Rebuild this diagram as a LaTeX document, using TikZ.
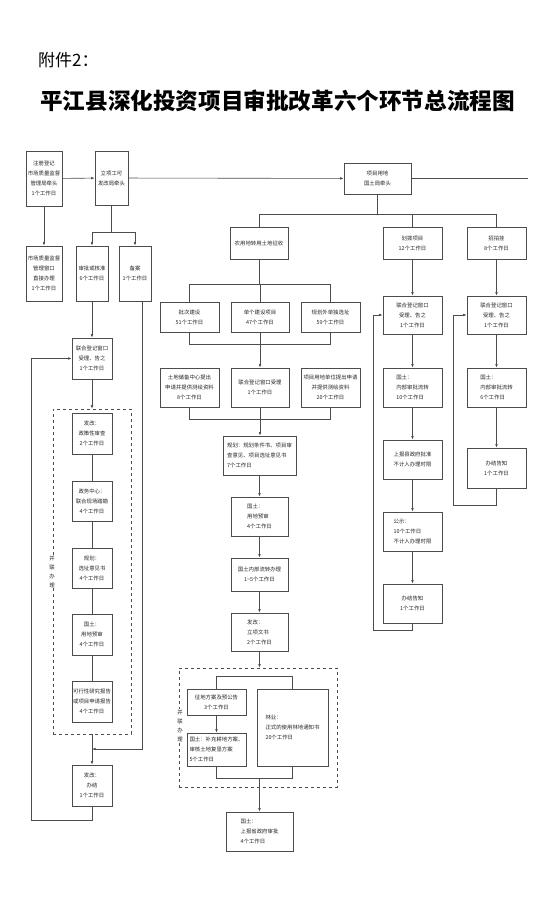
\documentclass[tikz,border=0pt]{standalone}
\usepackage{fontspec}
\newfontfamily\cjk{Noto Sans CJK SC}
\usetikzlibrary{arrows.meta}
\tikzset{
  box/.style 2 args={draw=black!70, line width=0.7pt, minimum width=#1pt, minimum height=#2pt,
    inner sep=0pt, align=center, text=black!85, font=\cjk\fontsize{5.4}{10}\selectfont},
  lbox/.style 2 args={box={#1}{#2}, align=left},
  dashframe/.style 2 args={draw=black!70, dashed, line width=0.6pt, minimum width=#1pt, minimum height=#2pt},
  link/.style={draw=black!70, line width=0.6pt},
  sidetag/.style={fill=white, inner sep=0.5pt, align=center, text=black!85, font=\cjk\fontsize{5.4}{9}\selectfont},
}

\begin{document}
\begin{tikzpicture}[x=1pt,y=-1pt,>={Latex[length=3.5pt,width=2.6pt]}]
\fill[white] (0,0) rectangle (553,915);
\useasboundingbox (0,0) rectangle (553,915);

% titles
\node[anchor=west, inner sep=0pt, font=\cjk\fontsize{17}{17}\selectfont] (fj) at (38,60) {附件2：};
\node[inner sep=0pt, font=\cjk\bfseries\fontsize{22.6}{23}\selectfont] (title) at (277.5,101)
  {平江县深化投资项目审批改革六个环节总流程图};

% top row
\node[box={36}{55}] (reg) at (44,178.5) {注册登记\\市场质量监督\\管理局牵头\\1个工作日};
\node[box={33}{54}] (lixiang) at (111.5,178) {立项工可\\发改局牵头};
\node[box={67}{31}] (xmyd) at (377.5,178.5) {项目用地\\国土局牵头};
\coordinate (rend) at (528,178.5);

\node[box={36}{55}] (scjg) at (44,273.5) {市场质量监督\\管理窗口\\直接办理\\1个工作日};
\node[box={32}{55}] (spjz) at (92,273.5) {审批或核准\\6个工作日};
\node[box={32}{55}] (beian) at (135,273.5) {备案\\1个工作日};

% left column
\node[box={40}{41}] (lh1) at (92,358.5) {联合登记窗口\\受理、告之\\1个工作日};
\node[dashframe={78}{325}] (parL) at (92,571.5) {};
\node[box={40}{41}] (fg1) at (92,433.5) {发改：\\政策性审查\\2个工作日};
\node[box={40}{40}] (zw) at (92,501) {政务中心：\\联合现场踏勘\\4个工作日};
\node[box={40}{40}] (gh1) at (92,568) {规划：\\选址意见书\\4个工作日};
\node[box={40}{41}] (gt1) at (92,634.5) {国土：\\用地预审\\4个工作日};
\node[box={40}{41}] (kx) at (92,701.5) {可行性研究报告\\或项目申请报告\\4个工作日};
\node[sidetag] (tagL) at (52,572) {并\\联\\办\\理};
\coordinate (jn) at (92,749);
\node[box={40}{41}] (fgbj) at (92,785.5) {发改：\\办结\\1个工作日};

% middle: land conversion
\node[box={58}{32}] (nyd) at (259,243) {农用地转用土地征收};
\node[box={59}{30}] (pc) at (189.5,317) {批次建设\\51个工作日};
\node[box={58}{30}] (dg) at (260,317) {单个建设项目\\47个工作日};
\node[box={59}{30}] (ghw) at (330.5,317) {规划外单独选址\\59个工作日};
\node[box={59}{39}] (tdcb) at (189.5,387.5) {土地储备中心提出\\申请并提供测绘资料\\8个工作日};
\node[box={58}{39}] (lhsl) at (260,387.5) {联合登记窗口受理\\1个工作日};
\node[box={59}{39}] (xmdw) at (330.5,387.5) {项目用地单位提出申请\\并提供测绘资料\\20个工作日};
\node[lbox={73}{39}] (gh) at (259.5,455.5) {规划：规划条件书、项目审\\查意见、项目选址意见书\\7个工作日};
\node[lbox={57}{39}] (gtys) at (259.5,516.5) {国土：\\用地预审\\4个工作日};
\node[box={57}{33}] (gtlz) at (259.5,574.5) {国土内部流转办理\\1\textasciitilde 5个工作日};
\node[lbox={57}{38}] (fglx) at (259.5,632) {发改：\\立项文书\\2个工作日};
\node[dashframe={158}{119}] (parR) at (258,727.5) {};
\node[box={59}{26}] (zd) at (216.5,702) {征地方案及预公告\\3个工作日};
\node[lbox={59}{33}] (gtbc) at (216.5,749.5) {国土：补充耕地方案、\\审核土地复垦方案\\5个工作日};
\node[lbox={71}{77}] (ly) at (292.5,727.5) {林业：\\正式的使用林地通知书\\20个工作日};
\node[sidetag] (tagR) at (180,725.5) {并\\联\\办\\理};
\node[lbox={67}{39}] (gtsb) at (259.5,831.5) {国土：\\上报省政府审批\\4个工作日};

% right: allocation
\node[box={59}{32}] (hb) at (412.5,243) {划拨项目\\12个工作日};
\node[box={59}{38}] (lh2) at (412.5,315) {联合登记窗口\\受理、告之\\1个工作日};
\node[lbox={59}{39}] (gt2) at (412.5,387.5) {国土：\\内部审批流转\\10个工作日};
\node[box={59}{39}] (sb2) at (412.5,459.5) {上报县政府批准\\不计入办理时限};
\node[lbox={59}{39}] (gs) at (412.5,531.5) {公示：\\10个工作日\\不计入办理时限};
\node[box={59}{39}] (bj2) at (412.5,603.5) {办结告知\\1个工作日};

% right: auction
\node[box={59}{32}] (zpg) at (496.5,243) {招拍挂\\8个工作日};
\node[box={59}{38}] (lh3) at (496.5,315) {联合登记窗口\\受理、告之\\1个工作日};
\node[lbox={59}{39}] (gt3) at (496.5,387.5) {国土：\\内部审批流转\\6个工作日};
\node[box={59}{40}] (bj3) at (496.5,468) {办结告知\\1个工作日};

% connectors, top
\draw[link,->] (reg) -- (lixiang);
\draw[link,->] (reg) -- (scjg);
\draw[link,->] (lixiang) -- (xmyd);
\draw[link] (xmyd) -- (rend);
\draw[link] (lixiang.south) -- (111.5,232);
\draw[link,->] (111.5,232) -| (spjz.north);
\draw[link,->] (111.5,232) -| (beian.north);

% connectors, left column
\draw[link,->] (spjz) -- (lh1);
\draw[link,->] (lh1) -- (parL.north);
\draw[link] (fg1) -- (zw) -- (gh1) -- (gt1) -- (kx);
\draw[link,->] (parL.south) -- (fgbj);
\draw[link,->] ([xshift=7pt]beian.south) |- (jn);
\draw[link,->] (fgbj.south) |- (31,820) |- (lh1.west);

% connectors, middle
\draw[link] (xmyd.south) |- (259,214);
\draw[link] (259,214) -- (496.5,214);
\draw[link] (259,214) -- (nyd.north);
\draw[link] (412.5,214) -- (hb.north);
\draw[link] (496.5,214) -- (zpg.north);
\draw[link] (nyd.south) -- (259,284);
\draw[link] (pc.north) |- (ghw.north |- 0,284) -- (ghw.north);
\draw[link] (dg.north) -- (dg.north |- 0,284);
\draw[link] (pc.south) |- (ghw.south |- 0,344) -- (ghw.south);
\draw[link] (dg.south) -- (dg.south |- 0,344);
\draw[link,->] (dg.south |- 0,344) -- (lhsl);
\draw[link] (tdcb.south) |- (xmdw.south |- 0,419) -- (xmdw.south);
\draw[link] (lhsl.south) -- (lhsl.south |- 0,419);
\draw[link,->] (lhsl.south |- 0,419) -- (gh.north -| lhsl.south);
\draw[link,->] (gh) -- (gtys);
\draw[link,->] (gtys) -- (gtlz);
\draw[link,->] (gtlz) -- (fglx);
\draw[link,->] (fglx) -- (parR.north -| fglx.south);
\draw[link] (zd.north) -- ++(0,-12) -| (ly.north);
\draw[link,->] (zd) -- (gtbc);
\draw[link] (gtbc.south) -- ++(0,12) -| (ly.south);
\draw[link,->] (gtsb.north |- 0,778) -- (gtsb);

% connectors, right
\draw[link,->] (hb) -- (lh2);
\draw[link,->] (lh2) -- (gt2);
\draw[link,->] (gt2) -- (sb2);
\draw[link,->] (sb2) -- (gs);
\draw[link,->] (gs) -- (bj2);
\draw[link,->] (bj2.south) |- (373,630) |- (lh2.west);
\draw[link,->] (zpg) -- (lh3);
\draw[link,->] (lh3) -- (gt3);
\draw[link,->] (gt3) -- (bj3);
\draw[link,->] (bj3.south) |- (453,505) |- (lh3.west);
\end{tikzpicture}
\end{document}
